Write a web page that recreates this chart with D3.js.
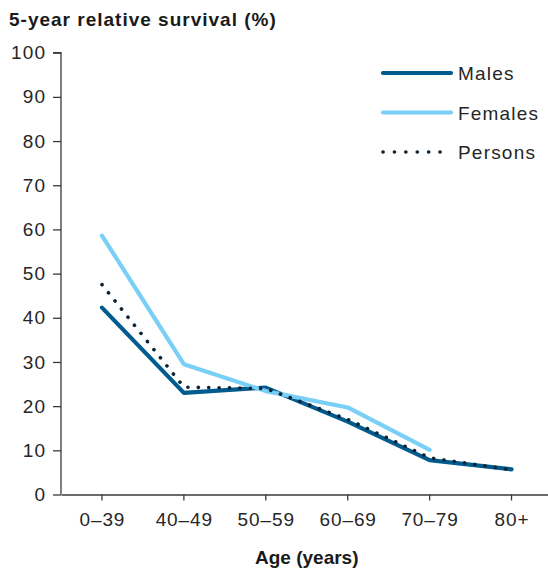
<!DOCTYPE html>
<html>
<head>
<meta charset="utf-8">
<script src="https://cdn.jsdelivr.net/npm/d3@7"></script>
<style>
  html, body { margin: 0; padding: 0; background: #fff; }
  svg { display: block; font-family: "Liberation Sans", Arial, sans-serif; }
</style>
</head>
<body>
<svg id="chart" width="548" height="575"></svg>
<script>
const categories = ["0–39", "40–49", "50–59", "60–69", "70–79", "80+"];
const males   = [42.3, 23.0, 24.2, 16.5, 7.8, 5.7];
const females = [58.6, 29.5, 23.4, 19.7, 10.1, null];
const persons = [47.5, 24.3, 24.0, 17.0, 8.3, 5.6];
const yTicks = [0, 10, 20, 30, 40, 50, 60, 70, 80, 90, 100];
const seriesNames = ["Males", "Females", "Persons"];
const titleText = "5-year relative survival (%)";
const xAxisTitle = "Age (years)";

const svg = d3.select("#chart");
const x = d3.scaleBand().domain(categories).range([61, 552.5]).padding(0);
const y = d3.scaleLinear().domain([0, 100]).range([494.5, 52.7]);
const axisColor = "#3a3a3a";
const textColor = "#262626";

// Title
svg.append("text")
  .attr("x", 9).attr("y", 26)
  .attr("font-size", 19).attr("font-weight", "bold")
  .attr("letter-spacing", 1.0)
  .attr("fill", "#1a1a1a")
  .text(titleText);

// Y axis
const yAxis = svg.append("g")
  .attr("transform", "translate(61,0)")
  .call(d3.axisLeft(y).tickValues(yTicks).tickSize(8).tickPadding(8));
yAxis.select(".domain").attr("stroke", axisColor).attr("stroke-width", 1.3)
  .attr("d", `M-8,${y(100)}H0V${y(0)}`);
yAxis.selectAll(".tick line").attr("stroke", axisColor).attr("stroke-width", 1.3);
yAxis.selectAll(".tick text")
  .attr("font-size", 19).attr("letter-spacing", 1.2)
  .attr("fill", textColor).attr("font-family", "Liberation Sans, Arial, sans-serif")
  .attr("dx", 1.2);

// X axis
const xAxis = svg.append("g")
  .attr("transform", `translate(0,${y(0)})`)
  .call(d3.axisBottom(x).tickSize(6).tickPadding(12).tickSizeOuter(0));
xAxis.select(".domain").attr("stroke", axisColor).attr("stroke-width", 1.3);
xAxis.selectAll(".tick line").attr("stroke", axisColor).attr("stroke-width", 1.3);
xAxis.selectAll(".tick text")
  .attr("font-size", 19).attr("letter-spacing", 0.9)
  .attr("fill", textColor).attr("font-family", "Liberation Sans, Arial, sans-serif")
  .attr("dx", 0.45);

// X axis title
svg.append("text")
  .attr("x", (x.range()[0] + x.range()[1]) / 2).attr("y", 564)
  .attr("text-anchor", "middle")
  .attr("font-size", 19).attr("font-weight", "bold")
  .attr("fill", "#1a1a1a")
  .text(xAxisTitle);

const cx = c => x(c) + x.bandwidth() / 2;
const line = d3.line()
  .defined(d => d.v != null)
  .x(d => cx(d.c))
  .y(d => y(d.v));

const toPts = arr => categories.map((c, i) => ({ c, v: arr[i] }));

const styles = {
  Males:   { stroke: "#005b8e", width: 4.2, dash: null },
  Females: { stroke: "#79cff6", width: 4.2, dash: null },
  Persons: { stroke: "#0d2436", width: 3.6, dash: "0.1 10.3" }
};
const dataBy = { Males: males, Females: females, Persons: persons };

seriesNames.forEach(name => {
  const s = styles[name];
  svg.append("path")
    .datum(toPts(dataBy[name]))
    .attr("fill", "none")
    .attr("stroke", s.stroke)
    .attr("stroke-width", s.width)
    .attr("stroke-linecap", "round")
    .attr("stroke-linejoin", "round")
    .attr("stroke-dasharray", s.dash)
    .attr("d", line);
});

// Legend
const legendY = [73, 112.5, 152];
seriesNames.forEach((name, i) => {
  const s = styles[name];
  const g = svg.append("g").attr("transform", `translate(0,${legendY[i]})`);
  g.append("line")
    .attr("x1", 383).attr("x2", 451).attr("y1", 0).attr("y2", 0)
    .attr("stroke", s.stroke).attr("stroke-width", s.width)
    .attr("stroke-linecap", "round")
    .attr("stroke-dasharray", s.dash ? "0.1 11.3" : null);
  g.append("text")
    .attr("x", 458).attr("y", 7)
    .attr("font-size", 19).attr("letter-spacing", 1.2)
    .attr("fill", textColor)
    .text(name);
});
</script>
</body>
</html>
